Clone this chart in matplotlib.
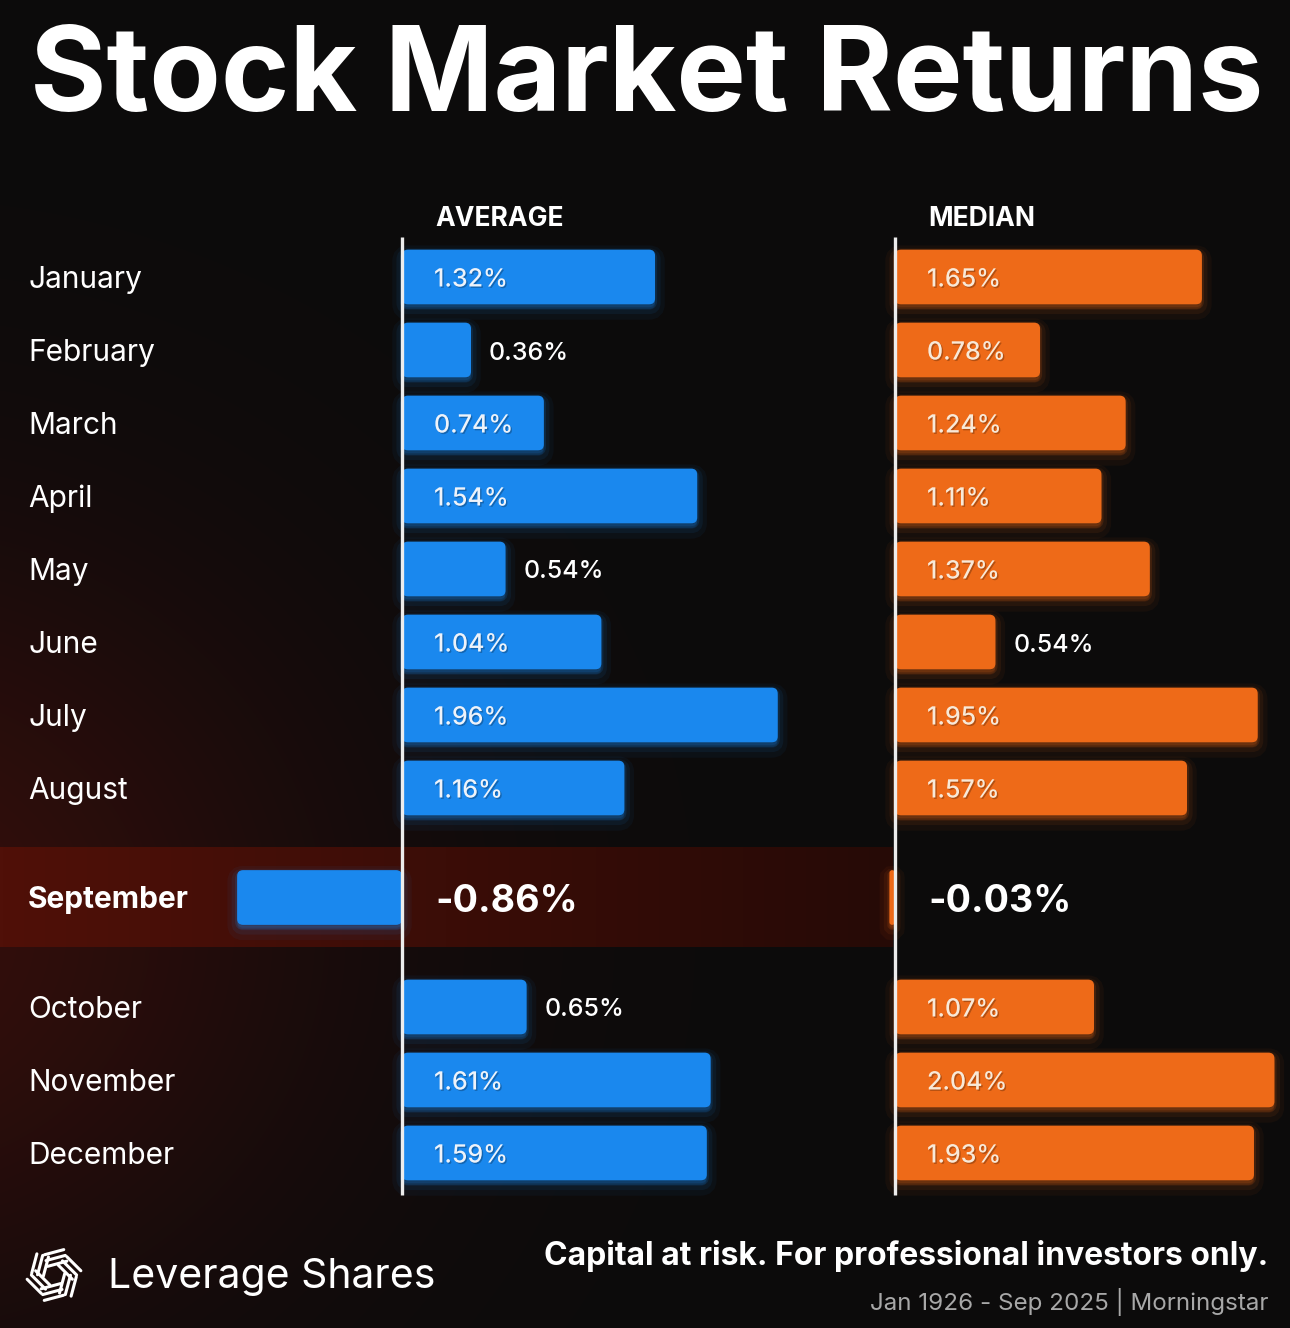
import numpy as np
import matplotlib.pyplot as plt
import matplotlib.patheffects as pe
from matplotlib.patches import FancyBboxPatch

plt.rcParams['font.family'] = ['Inter', 'DejaVu Sans']

months = ['January', 'February', 'March', 'April', 'May', 'June', 'July',
          'August', 'September', 'October', 'November', 'December']
average = [1.32, 0.36, 0.74, 1.54, 0.54, 1.04, 1.96, 1.16, -0.86, 0.65, 1.61, 1.59]
median = [1.65, 0.78, 1.24, 1.11, 1.37, 0.54, 1.95, 1.57, -0.03, 1.07, 2.04, 1.93]
rows = [0, 1, 2, 3, 4, 5, 6, 7, 8.5, 10, 11, 12]
highlight = 'September'

W, H = 1290, 1328
BLUE = '#1a88ee'
ORANGE = '#ee6a18'
BG = '#0c0b0b'

fig = plt.figure(figsize=(W / 100, H / 100), dpi=100, facecolor=BG)

# background with a dim red glow on the lower left
bg = fig.add_axes([0, 0, 1, 1])
yy, xx = np.mgrid[0:H, 0:W]
d2 = ((xx + 120) / 1.0) ** 2 + ((yy - 930) / 0.9) ** 2
glow = np.exp(-d2 / (2 * 300.0 ** 2))
img = np.zeros((H, W, 3))
img[..., 0] = 12 + 40 * glow
img[..., 1] = 11 + 3 * glow
img[..., 2] = 11 + 0 * glow
bg.imshow(img / 255.0, extent=[0, W, H, 0], aspect='auto', interpolation='bilinear')
bg.set_xlim(0, W)
bg.set_ylim(H, 0)
bg.axis('off')

# pixel geometry of the two panels
row0_px, row_step = 277, 73
ylim = ((H - row0_px) / row_step, (0 - row0_px) / row_step)
avg_zero, avg_scale = 402, 191.7
med_zero, med_scale = 895, 186.0
nudge = 3 / row_step  # text sits a touch low of the bar centre

ax1 = fig.add_axes([0, 0, 1, 1])
ax1.set_xlim(-avg_zero / avg_scale, (W - avg_zero) / avg_scale)
ax1.set_ylim(*ylim)
ax1.patch.set_alpha(0)
ax1.axis('off')

ax2 = fig.add_axes([0, 0, 1, 1])
ax2.set_xlim(-med_zero / med_scale, (W - med_zero) / med_scale)
ax2.set_ylim(*ylim)
ax2.patch.set_alpha(0)
ax2.axis('off')

# September highlight band
sep = rows[months.index(highlight)]
band_right = (med_zero - 2 - avg_zero) / avg_scale
grad = np.linspace(0, 1, 256)
band = np.zeros((1, 256, 4))
band[0, :, 0] = (80 - 42 * grad) / 255
band[0, :, 1] = (16 - 6 * grad) / 255
band[0, :, 2] = (8 - 2 * grad) / 255
band[0, :, 3] = 1
ax1.imshow(band, extent=[ax1.get_xlim()[0], band_right, sep + 0.68, sep - 0.68],
           aspect='auto', zorder=0.5)
ax1.set_xlim(-avg_zero / avg_scale, (W - avg_zero) / avg_scale)
ax1.set_ylim(*ylim)


def glow_fx(color):
    return [pe.Stroke(offset=(0, -4), linewidth=14, foreground=color, alpha=0.05),
            pe.Stroke(offset=(0, -3), linewidth=8, foreground=color, alpha=0.08),
            pe.Stroke(offset=(0, -2), linewidth=3, foreground=color, alpha=0.14),
            pe.Normal()]


def draw_panel(ax, values, color, scale, title, label_color):
    bars = ax.barh(rows, values, height=0.75, color=color, zorder=2)
    rad = 6 / scale
    aspect = (6 / row_step) / rad
    for b in bars:
        bb = b.get_bbox()
        x0, x1 = min(bb.x0, bb.x1), max(bb.x0, bb.x1)
        y0, y1 = min(bb.y0, bb.y1), max(bb.y0, bb.y1)
        r = min(rad, (x1 - x0) / 2)
        p = FancyBboxPatch((x0, y0), x1 - x0, y1 - y0,
                           boxstyle='round,pad=0,rounding_size=%f' % r,
                           mutation_aspect=aspect, facecolor=color,
                           edgecolor='none', zorder=2)
        p.set_path_effects(glow_fx(color))
        ax.add_patch(p)
        b.set_visible(False)
    ax.vlines(0, -0.55, 12.58, color='#ececec', linewidth=2.4, zorder=3)
    ax.text(33 / scale, -0.84 + nudge, title, color='white', fontsize=19,
            fontweight='bold', va='center', ha='left')
    for m, v, r in zip(months, values, rows):
        txt = '%.2f%%' % v
        if m == highlight:
            ax.text(33 / scale, r + 1.5 * nudge, txt, color='white', fontsize=27,
                    fontweight='bold', va='center', ha='left', zorder=4)
        elif v < 0.7:
            ax.text(v + 18 / scale, r + nudge, txt, color='white', fontsize=18,
                    fontweight='medium', va='center', ha='left', zorder=4)
        else:
            ax.text(32 / scale, r + nudge, txt, color=label_color, fontsize=18,
                    fontweight='medium', va='center', ha='left', zorder=4,
                    path_effects=[pe.withSimplePatchShadow(offset=(1, -1),
                                                           shadow_rgbFace='#000000',
                                                           alpha=0.25)])


draw_panel(ax1, average, BLUE, avg_scale, 'AVERAGE', '#eef3fa')
draw_panel(ax2, median, ORANGE, med_scale, 'MEDIAN', '#f8e9d8')


def ftext(x, y, s, **kw):
    fig.text(x / W, 1 - y / H, s, **kw)


# month labels
for m, r in zip(months, rows):
    bold = m == highlight
    ftext(28, row0_px + r * row_step + 3, m, color='white', fontsize=21.5,
          fontweight='bold' if bold else 'normal', va='center', ha='left')

# title
ftext(W / 2 + 2, 80, 'Stock Market Returns', color='white', fontsize=84,
      fontweight='bold', va='center', ha='center')

# footer
ftext(108, 1277, 'Leverage Shares', color='white', fontsize=29.5,
      va='center', ha='left')
ftext(1268, 1256, 'Capital at risk. For professional investors only.',
      color='white', fontsize=23, fontweight='bold', va='center', ha='right')
ftext(1268, 1302, 'Jan 1926 - Sep 2025 | Morningstar', color='#a8a8a8',
      fontsize=17.4, va='center', ha='right')

# logo: six groups of stripes arranged in a pinwheel
cx, cy = 54, 1275
for k in range(6):
    ang = np.deg2rad(60 * k + 15)
    ux, uy = np.cos(ang), np.sin(ang)
    px, py = -uy, ux
    for j in range(3):
        off = 10 + 6 * j
        sx = cx + ux * off + px * (-4)
        sy = cy + uy * off + py * (-4)
        ex = sx + px * 20
        ey = sy + py * 20
        bg.plot([sx, ex], [sy, ey], color='white', linewidth=2.2,
                solid_capstyle='round')

fig.savefig('out.png', dpi=100, facecolor=BG)
